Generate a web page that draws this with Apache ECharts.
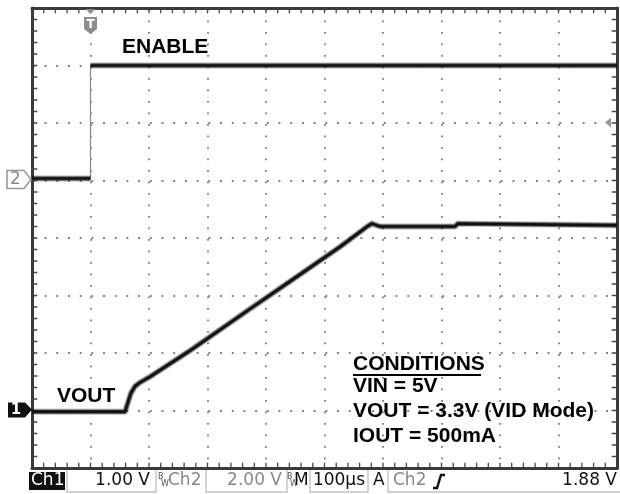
<!DOCTYPE html>
<html><head><meta charset="utf-8">
<script src="https://cdn.jsdelivr.net/npm/echarts@6/dist/echarts.min.js"></script>
<style>html,body{margin:0;padding:0;background:#fff}#c{width:620px;height:494px}</style>
</head><body><div id="c"></div>
<script>
// ---- data (time in µs relative to trigger, 100 µs/div) ----
const timeMin = -100, timeMax = 900, timeStep = 100;
const divMin = -4, divMax = 4;
const ch1VoltsPerDiv = 1.00;   // VOUT
const ch2VoltsPerDiv = 2.00;   // ENABLE
const ch1GroundDiv = -3;       // ground marker position (divisions from centre)
const ch2GroundDiv = 1;
const trigLevel = 1.88;        // V on Ch2

const vout_t = [-100, 59, 64, 69, 76, 85, 102, 170, 273, 346, 427, 473, 481, 495, 623, 628, 900];
const vout_v = [-0.02, -0.02, 0.14, 0.30, 0.42, 0.49, 0.59, 1.04, 1.77, 2.28, 2.85, 3.20, 3.25, 3.20, 3.20, 3.25, 3.22];

const enableLow_t = [-100, 0];
const enableLow_v = [0.07, 0.07];
const enableHigh_t = [0, 900];
const enableHigh_v = [4.0, 4.0];

const statusTexts = ['Ch1', '1.00 V', 'Ch2', '2.00 V', 'M', '100µs', 'A', 'Ch2', '1.88 V'];

// ---- build ----
const toDiv1 = v => ch1GroundDiv + v / ch1VoltsPerDiv;
const toDiv2 = v => ch2GroundDiv + v / ch2VoltsPerDiv;
const voutData = vout_t.map((t, i) => [t, toDiv1(vout_v[i])]);
const enLow = enableLow_t.map((t, i) => [t, toDiv2(enableLow_v[i])]);
const enHigh = enableHigh_t.map((t, i) => [t, toDiv2(enableHigh_v[i])]);
const enEdge = [enLow[enLow.length - 1], enHigh[0]];

const G = {left: 32, top: 8, width: 585, height: 460};
const dotCol = '#7a7a7a';
const borderCol = '#3a3a3a';
function axisCommon(extra) {
  return Object.assign({
    axisLine: {show: true, onZero: false, lineStyle: {color: borderCol, width: 3}},
    axisTick: {show: false},
    axisLabel: {show: false},
  }, extra);
}
const xPer = G.height / 40, yPer = G.width / 50;
const trace = (data, z) => [
  {type: 'line', data, symbol: 'none', lineStyle: {color: 'rgba(20,20,20,0.22)', width: 6.5, join: 'round'}, z},
  {type: 'line', data, symbol: 'none', lineStyle: {color: 'rgba(10,10,10,0.55)', width: 4.5, join: 'round'}, z: z + 1},
  {type: 'line', data, symbol: 'none', lineStyle: {color: '#111', width: 2.6, join: 'round'}, z: z + 2}
];
// border ticks every 1/5 division, drawn as tiny line series through the axes
const tickLenX = 0.09 * timeStep, tickLenY = 0.09;
const tickSeries = [];
const tickLS = {color: '#444', width: 1.3};
const addTick = (pts) => tickSeries.push({type: 'line', data: pts, symbol: 'none', silent: true, lineStyle: tickLS, z: 5});
for (let k = 1; k < 50; k++) {
  const t = timeMin + k * timeStep / 5;
  addTick([[t, divMax], [t, divMax - tickLenY]]);
  addTick([[t, divMin], [t, divMin + tickLenY]]);
}
for (let k = 1; k < 40; k++) {
  const d = divMin + k / 5;
  addTick([[timeMin, d], [timeMin + tickLenX, d]]);
  addTick([[timeMax, d], [timeMax - tickLenX, d]]);
}
const option = {
  animation: false,
  backgroundColor: '#fff',
  grid: G,
  xAxis: [
    axisCommon({type: 'value', min: timeMin, max: timeMax, interval: timeStep, position: 'bottom',
      splitLine: {show: true, lineStyle: {color: dotCol, width: 1.8, type: [1.8, xPer - 1.8], dashOffset: xPer - 0.9}}}),
    axisCommon({type: 'value', min: timeMin, max: timeMax, interval: timeStep, position: 'top', splitLine: {show: false}})
  ],
  yAxis: [
    axisCommon({type: 'value', min: divMin, max: divMax, interval: 1, position: 'left',
      splitLine: {show: true, lineStyle: {color: dotCol, width: 1.8, type: [1.8, yPer - 1.8], dashOffset: yPer - 0.9}}}),
    axisCommon({type: 'value', min: divMin, max: divMax, interval: 1, position: 'right', splitLine: {show: false}})
  ],
  series: [
    {type: 'line', data: enEdge, symbol: 'none', lineStyle: {color: '#8a8a8a', width: 1.2}, z: 3}
  ].concat(tickSeries, trace(enLow, 3), trace(enHigh, 3), trace(voutData, 3))
};
const chart = echarts.init(document.getElementById('c'), null, {renderer: 'canvas'});
chart.setOption(option);

// ---- decorations placed through the axes ----
const px = t => chart.convertToPixel({xAxisIndex: 0}, t);
const py = d => chart.convertToPixel({yAxisIndex: 0}, d);
const tx = px(0), gy2 = py(ch2GroundDiv), gy1 = py(ch1GroundDiv), ty = py(toDiv2(trigLevel));
const R = px(timeMax);
const bold = 'bold 21px "Liberation Sans", Arial, sans-serif';
const sfont = '17px "DejaVu Sans", sans-serif';
const bw = '8px "DejaVu Sans", sans-serif';
const sy = 481;
const box = (x1, x2) => ({type: 'polyline', shape: {points: [[x1, 470], [x1, 492], [x2, 492], [x2, 470]]}, style: {stroke: '#c4c4c4', lineWidth: 1.4, fill: null}, z: 20});
const graphics = [
  // trigger marker
  {type: 'polygon', shape: {points: [[tx - 5, 9], [tx + 5, 9], [tx, 14]]}, style: {fill: '#8c8c8c'}, z: 20},
  {type: 'polygon', shape: {points: [[tx - 6.5, 17], [tx + 6.5, 17], [tx + 6.5, 29], [tx, 34], [tx - 6.5, 29]]}, style: {fill: '#8c8c8c'}, z: 20},
  {type: 'text', x: tx, y: 25, style: {text: 'T', font: 'bold 12px "DejaVu Sans", sans-serif', fill: '#fff', align: 'center', verticalAlign: 'middle'}, z: 21},
  // ch2 ground marker
  {type: 'polygon', shape: {points: [[7, gy2 - 10], [24, gy2 - 10], [31, gy2 - 1], [24, gy2 + 8], [7, gy2 + 8]]}, style: {fill: '#fff', stroke: '#9a9a9a', lineWidth: 1.6}, z: 20},
  {type: 'text', x: 15.5, y: gy2 - 0.5, style: {text: '2', font: '17px "DejaVu Sans", sans-serif', fill: '#8a8a8a', align: 'center', verticalAlign: 'middle'}, z: 21},
  // ch1 ground marker
  {type: 'polygon', shape: {points: [[8, gy1 - 8], [25, gy1 - 8], [32, gy1 - 1], [25, gy1 + 7], [8, gy1 + 7]]}, style: {fill: '#111'}, z: 20},
  {type: 'text', x: 16, y: gy1 - 0.5, style: {text: '1', font: 'bold 15px "DejaVu Sans", sans-serif', fill: '#fff', align: 'center', verticalAlign: 'middle'}, z: 21},
  // trigger level marker
  {type: 'polygon', shape: {points: [[R - 12, ty - 4], [R - 6, ty - 9], [R - 6, ty + 1]]}, style: {fill: '#9a9a9a'}, z: 20},
  // labels
  {type: 'text', x: 122, y: 47, style: {text: 'ENABLE', font: bold, fill: '#000', verticalAlign: 'middle'}, z: 22},
  {type: 'text', x: 57, y: 396, style: {text: 'VOUT', font: bold, fill: '#000', verticalAlign: 'middle'}, z: 22},
  {type: 'text', x: 353, y: 364, style: {text: 'CONDITIONS', font: bold, fill: '#000', verticalAlign: 'middle'}, z: 22},
  {type: 'rect', shape: {x: 353, y: 374, width: 128, height: 2}, style: {fill: '#000'}, z: 22},
  {type: 'text', x: 353, y: 386, style: {text: 'VIN = 5V', font: bold, fill: '#000', verticalAlign: 'middle'}, z: 22},
  {type: 'text', x: 353, y: 411, style: {text: 'VOUT = 3.3V (VID Mode)', font: bold, fill: '#000', verticalAlign: 'middle'}, z: 22},
  {type: 'text', x: 353, y: 436, style: {text: 'IOUT = 500mA', font: bold, fill: '#000', verticalAlign: 'middle'}, z: 22},
  // status bar
  {type: 'rect', shape: {x: 29, y: 472, width: 36, height: 18}, style: {fill: '#111'}, z: 20},
  {type: 'text', x: 31, y: sy, style: {text: statusTexts[0], font: sfont, fill: '#fff', verticalAlign: 'middle'}, z: 21},
  box(67, 156),
  {type: 'text', x: 150, y: sy, style: {text: statusTexts[1], font: sfont, fill: '#111', align: 'right', verticalAlign: 'middle'}, z: 21},
  {type: 'text', x: 158, y: 477, style: {text: 'B', font: bw, fill: '#555', verticalAlign: 'middle'}, z: 21},
  {type: 'text', x: 161, y: 484, style: {text: 'W', font: bw, fill: '#555', verticalAlign: 'middle'}, z: 21},
  {type: 'text', x: 168, y: sy, style: {text: statusTexts[2], font: sfont, fill: '#888', verticalAlign: 'middle'}, z: 21},
  box(206, 287),
  {type: 'text', x: 282, y: sy, style: {text: statusTexts[3], font: sfont, fill: '#888', align: 'right', verticalAlign: 'middle'}, z: 21},
  {type: 'text', x: 287, y: 477, style: {text: 'B', font: bw, fill: '#555', verticalAlign: 'middle'}, z: 21},
  {type: 'text', x: 290, y: 484, style: {text: 'W', font: bw, fill: '#555', verticalAlign: 'middle'}, z: 21},
  {type: 'text', x: 294, y: sy, style: {text: statusTexts[4], font: sfont, fill: '#111', verticalAlign: 'middle'}, z: 21},
  box(310, 368),
  {type: 'text', x: 365, y: sy, style: {text: statusTexts[5], font: sfont, fill: '#111', align: 'right', verticalAlign: 'middle'}, z: 21},
  {type: 'text', x: 373, y: sy, style: {text: statusTexts[6], font: sfont, fill: '#111', verticalAlign: 'middle'}, z: 21},
  {type: 'polyline', shape: {points: [[388, 470], [388, 492], [620, 492]]}, style: {stroke: '#c4c4c4', lineWidth: 1.4, fill: null}, z: 20},
  {type: 'text', x: 393, y: sy, style: {text: statusTexts[7], font: sfont, fill: '#888', verticalAlign: 'middle'}, z: 21},
  {type: 'polyline', shape: {points: [[433, 488], [437, 488], [441, 475], [445, 475]]}, style: {stroke: '#111', lineWidth: 2.4, fill: null}, z: 21},
  {type: 'text', x: 617, y: sy, style: {text: statusTexts[8], font: sfont, fill: '#111', align: 'right', verticalAlign: 'middle'}, z: 21}
];
chart.setOption({graphic: graphics});
</script></body></html>
